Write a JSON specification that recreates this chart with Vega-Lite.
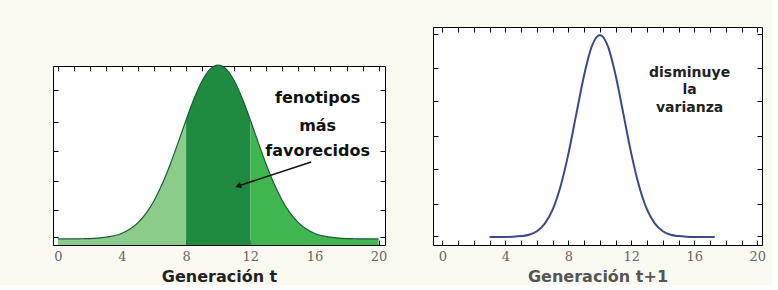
{
  "$schema": "https://vega.github.io/schema/vega-lite/v6.json",
  "background": "#fbfaf1",
  "padding": {"left": 52, "top": 26, "right": 5, "bottom": 0},
  "spacing": 44,
  "config": {
    "view": {"stroke": "#000000", "strokeWidth": 1, "fill": "#ffffff"},
    "axis": {
      "domain": false, "grid": false, "tickColor": "#000000", "tickSize": -5, "tickWidth": 1,
      "labelFont": "DejaVu Serif", "labelFontSize": 13, "labelColor": "#666666", "labelPadding": 10,
      "titleFont": "DejaVu Sans", "titleFontSize": 16, "titleFontWeight": "bold", "titlePadding": 5
    }
  },
  "hconcat": [
    {
      "spacing": 10,
      "vconcat": [
        {
          "width": 332,
          "height": 25,
          "view": {"stroke": null, "fill": null},
          "data": {"values": []},
          "mark": "point"
        },
        {
          "width": 332,
          "height": 179,
          "resolve": {"axis": {"x": "independent", "y": "independent"}},
          "layer": [
            {
              "data": {"name": "gen_t"},
              "mark": {"type": "area", "interpolate": "monotone"},
              "encoding": {
                "x": {"field": "x", "type": "quantitative", "scale": {"domain": [-0.3, 20.4], "nice": false, "zero": false},
                      "axis": {"orient": "bottom", "title": "Generación t", "titleColor": "#222222", "values": [0,1,2,3,4,5,6,7,8,9,10,11,12,13,14,15,16,17,18,19,20], "labelExpr": "datum.value % 4 === 0 ? datum.label : ''"}},
                "y": {"field": "y", "type": "quantitative", "stack": null, "scale": {"domain": [0, 1.03], "nice": false},
                      "axis": {"orient": "left", "title": null, "labels": false, "values": [0.046, 0.2, 0.37, 0.54, 0.71, 0.89]}},
                "color": {"field": "r", "type": "nominal", "legend": null,
                          "scale": {"domain": ["low", "mid", "high"], "range": ["#8ccc8a", "#1e8b41", "#3fb650"]}}
              }
            },
            {
              "data": {"name": "gen_t"},
              "mark": {"type": "line", "interpolate": "monotone", "color": "#1b5e34", "strokeWidth": 1.2},
              "encoding": {
                "x": {"field": "x", "type": "quantitative", "axis": {"orient": "top", "title": null, "labels": false, "values": [0,1,2,3,4,5,6,7,8,9,10,11,12,13,14,15,16,17,18,19,20]}},
                "y": {"field": "y", "type": "quantitative", "axis": {"orient": "right", "title": null, "labels": false, "values": [0.046, 0.2, 0.37, 0.54, 0.71, 0.89]}},
                "detail": {"field": "r"}
              }
            },
            {
              "data": {"values": [
                {"x": 16.2, "y": 0.846, "t": "fenotipos"},
                {"x": 16.2, "y": 0.685, "t": "más"},
                {"x": 16.2, "y": 0.541, "t": "favorecidos"}
              ]},
              "mark": {"type": "text", "font": "DejaVu Sans", "fontWeight": "bold", "fontSize": 16, "color": "#111111", "align": "center", "baseline": "middle"},
              "encoding": {
                "x": {"field": "x", "type": "quantitative", "axis": null},
                "y": {"field": "y", "type": "quantitative", "axis": null},
                "text": {"field": "t"}
              }
            },
            {
              "data": {"values": [{"x": 15.8, "y": 0.478, "x2": 11.3, "y2": 0.341}]},
              "mark": {"type": "rule", "color": "#111111", "strokeWidth": 1.5},
              "encoding": {
                "x": {"field": "x", "type": "quantitative", "axis": null},
                "y": {"field": "y", "type": "quantitative", "axis": null},
                "x2": {"field": "x2"},
                "y2": {"field": "y2"}
              }
            },
            {
              "data": {"values": [{"x": 11.3, "y": 0.341}]},
              "mark": {"type": "point", "shape": "triangle", "filled": true, "color": "#111111", "size": 45, "angle": 252, "opacity": 1},
              "encoding": {
                "x": {"field": "x", "type": "quantitative", "axis": null},
                "y": {"field": "y", "type": "quantitative", "axis": null}
              }
            }
          ]
        }
      ]
    },
    {
      "width": 329,
      "height": 218,
      "resolve": {"axis": {"x": "independent", "y": "independent"}},
      "layer": [
        {
          "data": {"name": "gen_t1"},
          "mark": {"type": "line", "interpolate": "monotone", "color": "#3c4a8c", "strokeWidth": 2},
          "encoding": {
            "x": {"field": "x", "type": "quantitative", "scale": {"domain": [-0.6, 20.3], "nice": false, "zero": false},
                  "axis": {"orient": "bottom", "title": "Generación t+1", "titleColor": "#555555", "values": [0,1,2,3,4,5,6,7,8,9,10,11,12,13,14,15,16,17,18,19,20], "labelExpr": "datum.value % 4 === 0 ? datum.label : ''"}},
            "y": {"field": "y", "type": "quantitative", "scale": {"domain": [0, 1], "nice": false},
                  "axis": {"orient": "left", "title": null, "labels": false, "values": [0.04, 0.19, 0.35, 0.5, 0.66, 0.81, 0.97]}}
          }
        },
        {
          "data": {"name": "gen_t1"},
          "mark": {"type": "line", "interpolate": "monotone", "color": "#3c4a8c", "strokeWidth": 0, "opacity": 0},
          "encoding": {
            "x": {"field": "x", "type": "quantitative", "axis": {"orient": "top", "title": null, "labels": false, "values": [0,1,2,3,4,5,6,7,8,9,10,11,12,13,14,15,16,17,18,19,20]}},
            "y": {"field": "y", "type": "quantitative", "axis": {"orient": "right", "title": null, "labels": false, "values": [0.04, 0.19, 0.35, 0.5, 0.66, 0.81, 0.97]}}
          }
        },
        {
          "data": {"values": [
            {"x": 15.7, "y": 0.788, "t": "disminuye"},
            {"x": 15.7, "y": 0.711, "t": "la"},
            {"x": 15.7, "y": 0.630, "t": "varianza"}
          ]},
          "mark": {"type": "text", "font": "DejaVu Sans", "fontWeight": "bold", "fontSize": 14, "color": "#222222", "align": "center", "baseline": "middle"},
          "encoding": {
            "x": {"field": "x", "type": "quantitative", "axis": null},
            "y": {"field": "y", "type": "quantitative", "axis": null},
            "text": {"field": "t"}
          }
        }
      ]
    }
  ],
  "datasets": {
    "gen_t": [
      {"x": 0, "y": 0.035, "r": "low"}, {"x": 0.5, "y": 0.035, "r": "low"}, {"x": 1, "y": 0.035, "r": "low"},
      {"x": 1.5, "y": 0.036, "r": "low"}, {"x": 2, "y": 0.037, "r": "low"}, {"x": 2.5, "y": 0.04, "r": "low"},
      {"x": 3, "y": 0.045, "r": "low"}, {"x": 3.5, "y": 0.053, "r": "low"}, {"x": 4, "y": 0.068, "r": "low"},
      {"x": 4.5, "y": 0.092, "r": "low"}, {"x": 5, "y": 0.129, "r": "low"}, {"x": 5.5, "y": 0.182, "r": "low"},
      {"x": 6, "y": 0.255, "r": "low"}, {"x": 6.5, "y": 0.349, "r": "low"}, {"x": 7, "y": 0.462, "r": "low"},
      {"x": 7.5, "y": 0.589, "r": "low"}, {"x": 8, "y": 0.72, "r": "low"},
      {"x": 8, "y": 0.72, "r": "mid"}, {"x": 8.5, "y": 0.843, "r": "mid"}, {"x": 9, "y": 0.945, "r": "mid"},
      {"x": 9.5, "y": 1.012, "r": "mid"}, {"x": 10, "y": 1.035, "r": "mid"}, {"x": 10.5, "y": 1.012, "r": "mid"},
      {"x": 11, "y": 0.945, "r": "mid"}, {"x": 11.5, "y": 0.843, "r": "mid"}, {"x": 12, "y": 0.72, "r": "mid"},
      {"x": 12, "y": 0.72, "r": "high"}, {"x": 12.5, "y": 0.589, "r": "high"}, {"x": 13, "y": 0.462, "r": "high"},
      {"x": 13.5, "y": 0.349, "r": "high"}, {"x": 14, "y": 0.255, "r": "high"}, {"x": 14.5, "y": 0.182, "r": "high"},
      {"x": 15, "y": 0.129, "r": "high"}, {"x": 15.5, "y": 0.092, "r": "high"}, {"x": 16, "y": 0.068, "r": "high"},
      {"x": 16.5, "y": 0.053, "r": "high"}, {"x": 17, "y": 0.045, "r": "high"}, {"x": 17.5, "y": 0.04, "r": "high"},
      {"x": 18, "y": 0.037, "r": "high"}, {"x": 18.5, "y": 0.036, "r": "high"}, {"x": 19, "y": 0.035, "r": "high"},
      {"x": 19.5, "y": 0.035, "r": "high"}, {"x": 20, "y": 0.035, "r": "high"}
    ],
    "gen_t1": [
      {"x": 3, "y": 0.037}, {"x": 3.5, "y": 0.037}, {"x": 4, "y": 0.037}, {"x": 4.5, "y": 0.038},
      {"x": 5, "y": 0.041}, {"x": 5.5, "y": 0.047}, {"x": 6, "y": 0.063}, {"x": 6.5, "y": 0.098},
      {"x": 7, "y": 0.162}, {"x": 7.5, "y": 0.268}, {"x": 8, "y": 0.418}, {"x": 8.5, "y": 0.599},
      {"x": 9, "y": 0.779}, {"x": 9.5, "y": 0.913}, {"x": 10, "y": 0.963}, {"x": 10.5, "y": 0.913},
      {"x": 11, "y": 0.779}, {"x": 11.5, "y": 0.599}, {"x": 12, "y": 0.418}, {"x": 12.5, "y": 0.268},
      {"x": 13, "y": 0.162}, {"x": 13.5, "y": 0.098}, {"x": 14, "y": 0.063}, {"x": 14.5, "y": 0.047},
      {"x": 15, "y": 0.041}, {"x": 15.5, "y": 0.038}, {"x": 16, "y": 0.037}, {"x": 16.5, "y": 0.037},
      {"x": 17, "y": 0.037}, {"x": 17.3, "y": 0.037}
    ]
  }
}
